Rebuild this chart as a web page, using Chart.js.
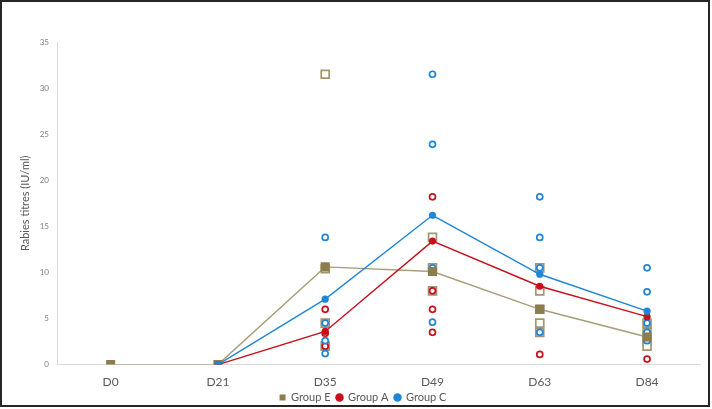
<!DOCTYPE html>
<html>
<head>
<meta charset="utf-8">
<script src="https://cdn.jsdelivr.net/npm/chart.js@4.4.0/dist/chart.umd.min.js"></script>
<style>
  body { margin: 0; background: #fff; overflow: hidden; }
  #chart { position: absolute; left: 2px; top: 2px; display: block; }
  #frame { position: absolute; left: 0; top: 0; width: 706px; height: 403px; border: 2px solid #262626; pointer-events: none; }
</style>
</head>
<body>
<canvas id="chart" width="706" height="411"></canvas>
<div id="frame"></div>
<script>
const days = ['D0', 'D21', 'D35', 'D49', 'D63', 'D84'];

// group means (lines)
const meanE = [0, 0, 10.6, 10.1, 6.0, 3.0];
const meanA = [null, 0, 3.6, 13.4, 8.5, 5.2];
const meanC = [null, 0, 7.1, 16.2, 9.8, 5.8];

// individual titres per day
const indivE = {
    D35: [31.5, 10.4, 4.5, 2.0],
    D49: [13.8, 10.5, 8.0],
    D63: [10.5, 8.0, 6.0, 4.5, 3.5],
    D84: [4.5, 3.5, 2.6, 2.0]
};
const indivA = {
    D35: [6.0, 3.4, 2.0],
    D49: [18.2, 8.0, 6.0, 3.5],
    D63: [6.0, 1.1],
    D84: [0.6]
};
const indivC = {
    D35: [13.8, 4.5, 2.6, 1.2],
    D49: [31.5, 23.9, 10.5, 4.6],
    D63: [18.2, 13.8, 10.5, 3.5],
    D84: [10.5, 7.9, 4.5, 3.5, 2.6]
};

const yTicks = [0, 5, 10, 15, 20, 25, 30, 35];

const colors = {
    olive: '#8c7d4f',
    oliveLine: '#a99d78',
    oliveHollow: '#a39570',
    red: '#c8101a',
    blue: '#1f86d8',
    text: '#595959',
    tick: '#808080',
    axis: '#d9d9d9'
};

function toPoints(obj) {
    const pts = [];
    Object.keys(obj).forEach(day => {
        obj[day].forEach(v => pts.push({ x: day, y: v }));
    });
    return pts;
}

const datasets = [
    {
        label: 'Group C', data: meanC, borderColor: colors.blue, backgroundColor: colors.blue,
        borderWidth: 1.4, pointStyle: 'circle', pointRadius: 3.6,
        pointBackgroundColor: colors.blue, pointBorderColor: colors.blue, pointBorderWidth: 0
    },
    {
        label: 'Group A', data: meanA, borderColor: colors.red, backgroundColor: colors.red,
        borderWidth: 1.4, pointStyle: 'circle', pointRadius: 3.6,
        pointBackgroundColor: colors.red, pointBorderColor: colors.red, pointBorderWidth: 0
    },
    {
        label: 'Group E', data: meanE, borderColor: colors.oliveLine, backgroundColor: colors.olive,
        borderWidth: 1.4, pointStyle: 'rect', pointRadius: 6.4,
        pointBackgroundColor: colors.olive, pointBorderColor: colors.olive, pointBorderWidth: 0
    },
    {
        label: 'C individual', data: toPoints(indivC), showLine: false,
        pointStyle: 'circle', pointRadius: 3, pointBorderWidth: 1.7,
        pointBackgroundColor: 'rgba(255,255,255,0.9)', pointBorderColor: colors.blue
    },
    {
        label: 'A individual', data: toPoints(indivA), showLine: false,
        pointStyle: 'circle', pointRadius: 3, pointBorderWidth: 1.7,
        pointBackgroundColor: 'rgba(255,255,255,0.9)', pointBorderColor: colors.red
    },
    {
        label: 'E individual', data: toPoints(indivE), showLine: false,
        pointStyle: 'rect', pointRadius: 5.6, pointBorderWidth: 1.7,
        pointBackgroundColor: '#ffffff', pointBorderColor: colors.oliveHollow
    }
];

new Chart(document.getElementById('chart').getContext('2d'), {
    type: 'line',
    data: { labels: days, datasets: datasets },
    options: {
        responsive: false,
        animation: false,
        layout: { padding: { top: 40, left: 16, right: 0, bottom: 0 } },
        plugins: {
            tooltip: { enabled: false },
            legend: {
                position: 'bottom',
                reverse: true,
                labels: {
                    filter: item => item.text.indexOf('individual') < 0,
                    usePointStyle: true,
                    boxWidth: 6, boxHeight: 6,
                    padding: 6,
                    color: colors.text,
                    font: { family: 'Lato', size: 11 }
                }
            }
        },
        scales: {
            x: {
                type: 'category',
                offset: true,
                grid: { display: false, drawTicks: false },
                border: { display: true, color: colors.axis, width: 1 },
                ticks: { color: colors.text, padding: 10, font: { family: 'Lato', size: 12 } },
                afterFit: s => { s.height = s.height - 13; }
            },
            y: {
                min: 0, max: 35,
                grid: { display: false, drawTicks: false },
                border: { display: true, color: colors.axis, width: 1 },
                afterBuildTicks: s => { s.ticks = yTicks.map(v => ({ value: v })); },
                ticks: { color: colors.tick, padding: 8, font: { family: 'Lato', size: 8 } },
                title: {
                    display: true, text: 'Rabies titres (IU/ml)', color: colors.text,
                    padding: { top: 1, bottom: 0 },
                    font: { family: 'Lato', size: 11 }
                },
                afterFit: s => { s.width = 39; }
            }
        }
    }
});
</script>
</body>
</html>
